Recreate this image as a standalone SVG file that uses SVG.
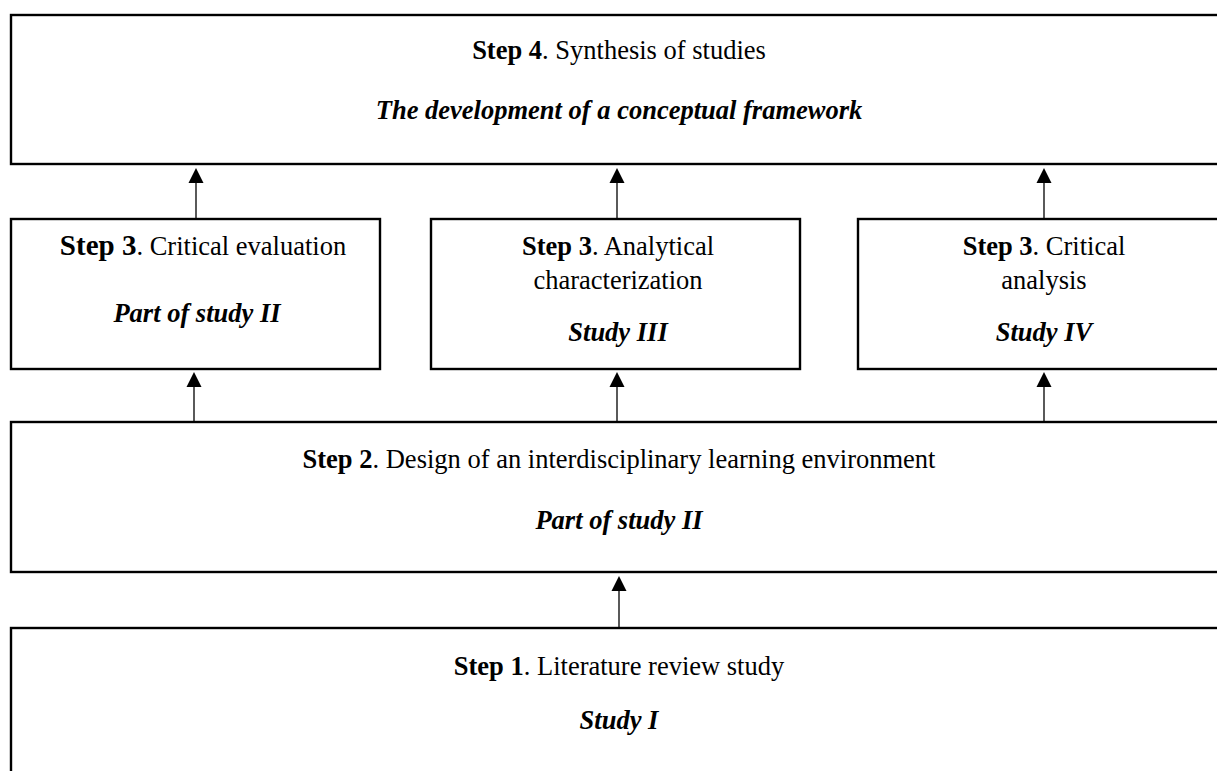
<svg xmlns="http://www.w3.org/2000/svg" width="1217" height="771" viewBox="0 0 1217 771">
  <style>
    .box { fill: #ffffff; stroke: #000000; stroke-width: 2.4; }
    .t { font-family: "Liberation Serif", "Times New Roman", serif; font-size: 26.5px; fill: #000000; text-anchor: middle; }
    .big { font-size: 29px; }
    .b { font-weight: bold; }
    .bi { font-weight: bold; font-style: italic; }
    .edge { stroke: #000000; stroke-width: 1.3; fill: none; }
    .head { fill: #000000; }
  </style>

  <rect width="1217" height="771" fill="#ffffff"/>

  <!-- Step 4 -->
  <g id="step4">
    <rect class="box" x="11" y="15" width="1225" height="149"/>
    <text class="t" x="619" y="59"><tspan class="b">Step 4</tspan>. Synthesis of studies</text>
    <text class="t bi" x="619" y="119">The development of a conceptual framework</text>
  </g>

  <!-- Step 3 boxes -->
  <g id="step3-evaluation">
    <rect class="box" x="11" y="219" width="369" height="150"/>
    <text class="t" x="203" y="255"><tspan class="b big">Step 3</tspan>. Critical evaluation</text>
    <text class="t bi" x="197" y="322">Part of study II</text>
  </g>
  <g id="step3-characterization">
    <rect class="box" x="431" y="219" width="369" height="150"/>
    <text class="t" x="618" y="255"><tspan class="b">Step 3</tspan>. Analytical</text>
    <text class="t" x="618" y="289">characterization</text>
    <text class="t bi" x="618" y="341">Study III</text>
  </g>
  <g id="step3-analysis">
    <rect class="box" x="858" y="219" width="380" height="150"/>
    <text class="t" x="1044" y="255"><tspan class="b">Step 3</tspan>. Critical</text>
    <text class="t" x="1044" y="289">analysis</text>
    <text class="t bi" x="1044" y="341">Study IV</text>
  </g>

  <!-- Step 2 -->
  <g id="step2">
    <rect class="box" x="11" y="422" width="1225" height="150"/>
    <text class="t" x="619" y="468"><tspan class="b">Step 2</tspan>. Design of an interdisciplinary learning environment</text>
    <text class="t bi" x="619" y="529">Part of study II</text>
  </g>

  <!-- Step 1 -->
  <g id="step1">
    <rect class="box" x="11" y="628" width="1225" height="160"/>
    <text class="t" x="619" y="675"><tspan class="b">Step 1</tspan>. Literature review study</text>
    <text class="t bi" x="619" y="729">Study I</text>
  </g>

  <!-- Connectors -->
  <g id="connectors">
    <line class="edge" x1="196" y1="219" x2="196" y2="180"/>
    <polygon class="head" points="196,168 188.5,183 203.5,183"/>
    <line class="edge" x1="617" y1="219" x2="617" y2="180"/>
    <polygon class="head" points="617,168 609.5,183 624.5,183"/>
    <line class="edge" x1="1044" y1="219" x2="1044" y2="180"/>
    <polygon class="head" points="1044,168 1036.5,183 1051.5,183"/>

    <line class="edge" x1="194" y1="422" x2="194" y2="384"/>
    <polygon class="head" points="194,372 186.5,387 201.5,387"/>
    <line class="edge" x1="617" y1="422" x2="617" y2="384"/>
    <polygon class="head" points="617,372 609.5,387 624.5,387"/>
    <line class="edge" x1="1044" y1="422" x2="1044" y2="384"/>
    <polygon class="head" points="1044,372 1036.5,387 1051.5,387"/>

    <line class="edge" x1="619" y1="628" x2="619" y2="588"/>
    <polygon class="head" points="619,576 611.5,591 626.5,591"/>
  </g>
</svg>
